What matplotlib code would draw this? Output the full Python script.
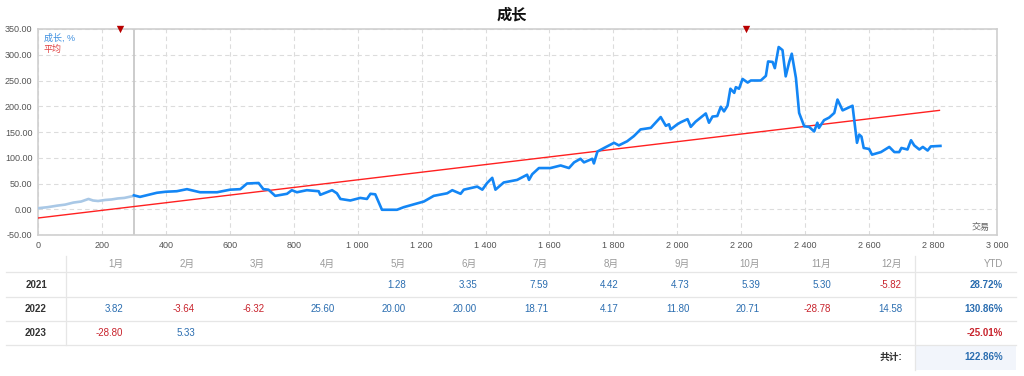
import numpy as np
import matplotlib.pyplot as plt
from matplotlib.ticker import FuncFormatter

#=============================
# Datos de la curva de crecimiento
#=============================
# tramo inicial (claro) hasta la operacion 300
x_ini = [0, 30, 60, 85, 111, 135, 158, 172, 188, 210, 230, 250, 270, 285, 300]
y_ini = [2, 4, 7, 9, 13, 15, 20, 17, 16, 18, 19, 21, 22, 24, 26]

# tramo principal
x_cre = [300, 319, 345, 372, 400, 434, 466, 507, 560, 601, 633, 654, 690, 705,
         721, 742, 779, 794, 810, 841, 878, 883, 920, 935, 946, 977, 1008, 1029,
         1040, 1055, 1076, 1123, 1144, 1207, 1238, 1280, 1296, 1322, 1332, 1374,
         1390, 1405, 1421, 1431, 1457, 1499, 1530, 1536, 1546, 1567, 1603, 1635,
         1661, 1677, 1697, 1708, 1734, 1739, 1750, 1771, 1802, 1817, 1843, 1864,
         1885, 1917, 1933, 1948, 1964, 1974, 1979, 2000, 2011, 2032, 2042, 2057,
         2089, 2099, 2110, 2125, 2136, 2146, 2157, 2166, 2178, 2183, 2193, 2204,
         2220, 2230, 2261, 2277, 2284, 2298, 2305, 2317, 2329, 2339, 2350, 2358,
         2371, 2381, 2397, 2412, 2428, 2438, 2443, 2459, 2475, 2491, 2501, 2517,
         2548, 2553, 2562, 2569, 2576, 2583, 2600, 2609, 2637, 2663, 2679, 2694,
         2701, 2720, 2731, 2741, 2757, 2768, 2783, 2793, 2823]
y_cre = [27, 24, 28, 32, 34, 35, 39, 33, 33, 38, 39, 50, 51, 39,
         38, 26, 30, 37, 33, 37, 35, 28, 37, 31, 20, 17, 22, 20,
         30, 29, -1, -1, 4, 15, 26, 31, 37, 30, 38, 44,
         38, 51, 61, 38, 52, 57, 67, 57, 68, 80, 80, 85,
         80, 91, 98, 91, 98, 89, 112, 119, 129, 124, 132, 142,
         155, 158, 169, 179, 162, 165, 155, 165, 169, 175, 160, 170,
         186, 168, 180, 181, 199, 190, 201, 234, 226, 237, 234, 253,
         246, 250, 250, 259, 287, 286, 274, 315, 309, 258, 286, 302,
         255, 187, 161, 160, 151, 168, 158, 173, 178, 187, 213, 192,
         201, 175, 129, 145, 141, 119, 117, 106, 111, 121, 111, 111,
         119, 116, 134, 124, 116, 121, 114, 122, 123]

# linea promedio
x_prom = [0, 2820]
y_prom = [-17, 192]

# marcadores superiores y linea vertical
marcas_x = [257, 2215]
linea_v = 300

#=============================
# Datos de la tabla mensual
#=============================
meses = ["1月", "2月", "3月", "4月", "5月", "6月", "7月", "8月", "9月", "10月", "11月", "12月"]
anios = ["2021", "2022", "2023"]
valores = [
    [None, None, None, None, 1.28, 3.35, 7.59, 4.42, 4.73, 5.39, 5.30, -5.82],
    [3.82, -3.64, -6.32, 25.60, 20.00, 20.00, 18.71, 4.17, 11.80, 20.71, -28.78, 14.58],
    [-28.80, 5.33, None, None, None, None, None, None, None, None, None, None],
]
ytd = [28.72, 130.86, -25.01]
total = 122.86

AZUL_T = "#2a6db0"
ROJO_T = "#c8232c"
fuente = ["Liberation Sans", "Noto Sans CJK SC"]
plt.rcParams["font.family"] = fuente

W, H = 1024, 376
fig = plt.figure(figsize=(W / 100, H / 100), dpi=100)

# area del grafico en pixeles
L, R, T, B = 38, 997, 29, 235
ax = fig.add_axes([L / W, 1 - B / H, (R - L) / W, (B - T) / H])

ax.plot(x_prom, y_prom, color="#ff2020", lw=1.0, zorder=3)
ax.plot(x_ini, y_ini, color="#a9c8e6", lw=1.9, zorder=4)
ax.plot(x_cre, y_cre, color="#1386f5", lw=1.9, zorder=4, solid_joinstyle="round")
ax.axvline(linea_v, color="#c4c4c4", lw=1.2, zorder=2)
ax.scatter(marcas_x, [350] * len(marcas_x), marker="v", s=28, color="#b80000",
           clip_on=False, zorder=5, linewidths=0)

ax.set_xlim(0, 3000)
ax.set_ylim(-50, 350)
ax.set_xticks(np.arange(0, 3001, 200))
ax.set_yticks(np.arange(-50, 351, 50))
ax.xaxis.set_major_formatter(FuncFormatter(lambda v, p: f"{int(v):,}".replace(",", " ")))
ax.yaxis.set_major_formatter(FuncFormatter(lambda v, p: f"{v:.2f}"))
ax.tick_params(length=0, labelsize=6.5, colors="#555555", pad=4)
ax.grid(True, color="#dcdcdc", ls=(0, (4, 3)), lw=0.8)
for s in ax.spines.values():
    s.set_color("#cfcfcf")
    s.set_linewidth(1.2)

ax.text(0.006, 0.955, "成长, %", transform=ax.transAxes, color="#3d8fe0", fontsize=6.5,
        va="center", ha="left")
ax.text(0.006, 0.9, "平均", transform=ax.transAxes, color="#e04040", fontsize=6.5,
        va="center", ha="left")
ax.text(0.992, 0.035, "交易", transform=ax.transAxes, color="#666666", fontsize=6.5,
        va="center", ha="right")

fig.text(0.5, 1 - 15 / H, "成长", ha="center", va="center", fontsize=11, fontweight="bold",
         color="#111111")

#=============================
# Tabla (coordenadas en pixeles)
#=============================
tb = fig.add_axes([0, 0, 1, 1], zorder=-1)
tb.set_xlim(0, W)
tb.set_ylim(H, 0)
tb.axis("off")

col_der = [123, 195, 265, 335, 406, 477, 548, 619, 690, 760, 831, 902]
fila_y = [285, 309, 333]
ytd_x = 1003

tb.add_patch(plt.Rectangle((916, 346), 100, 24, color="#f2f5fb", lw=0))
for yy in [272, 297, 321, 345]:
    tb.plot([6, 1016], [yy, yy], color="#e6e6e6", lw=0.9)
tb.plot([66, 66], [256, 345], color="#e6e6e6", lw=0.9)
tb.plot([915, 915], [256, 370], color="#e6e6e6", lw=0.9)

for m, xx in zip(meses, col_der):
    tb.text(xx, 264, m, ha="right", va="center", fontsize=7, color="#999999")
tb.text(ytd_x, 264, "YTD", ha="right", va="center", fontsize=7, color="#999999")

for a, yy, fila, t in zip(anios, fila_y, valores, ytd):
    tb.text(36, yy, a, ha="center", va="center", fontsize=7, fontweight="bold", color="#333333")
    for v, xx in zip(fila, col_der):
        if v is None:
            continue
        tb.text(xx, yy, f"{v:.2f}", ha="right", va="center", fontsize=7,
                color=ROJO_T if v < 0 else AZUL_T)
    tb.text(ytd_x, yy, f"{t:.2f}%", ha="right", va="center", fontsize=7, fontweight="bold",
            color=ROJO_T if t < 0 else AZUL_T)

tb.text(902, 357, "共计:", ha="right", va="center", fontsize=7, fontweight="bold", color="#333333")
tb.text(ytd_x, 357, f"{total:.2f}%", ha="right", va="center", fontsize=7, fontweight="bold",
        color=AZUL_T)

fig.savefig("out.png", dpi=100)
